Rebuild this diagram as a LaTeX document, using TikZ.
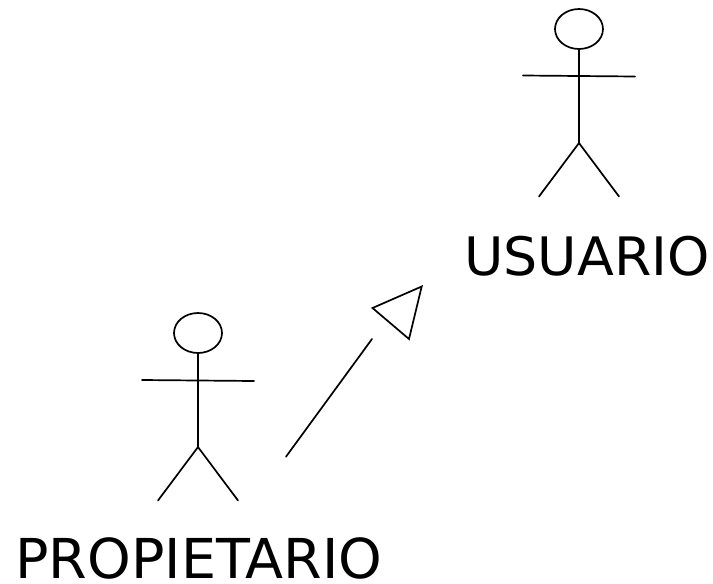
\documentclass[tikz,border=0pt]{standalone}
\usetikzlibrary{shapes.geometric}
\usepackage{fontspec}
\setmainfont{DejaVu Sans}
\tikzset{
  stroke/.style={draw=black,line width=1.7pt,line cap=round,line join=miter},
  headshape/.style={ellipse,draw=black,line width=1.7pt,minimum width=48pt,minimum height=40pt,inner sep=0pt},
  lbl/.style={inner sep=0pt,anchor=base,text=black}
}
\begin{document}
\begin{tikzpicture}[x=1pt,y=-1pt]
\useasboundingbox (0,0) rectangle (713,584);
% Usuario
\node[headshape] (h1) at (579,29) {};
\coordinate (hip1) at (579,143);
\coordinate (la1) at (523,75.5);
\coordinate (ra1) at (635,76.5);
\coordinate (ll1) at (539,196.5);
\coordinate (rl1) at (619,196.5);
\draw[stroke] (h1.south) -- (hip1);
\draw[stroke] (la1) -- (ra1);
\draw[stroke] (ll1) -- (hip1) -- (rl1);
\node[lbl,font=\fontsize{53}{56}\selectfont,xscale=1.015] (usuario) at (587,275) {USUARIO};
% Propietario
\node[headshape] (h2) at (198,333) {};
\coordinate (hip2) at (198,447);
\coordinate (la2) at (142,380);
\coordinate (ra2) at (254,381);
\coordinate (ll2) at (158,500.5);
\coordinate (rl2) at (238,500.5);
\draw[stroke] (h2.south) -- (hip2);
\draw[stroke] (la2) -- (ra2);
\draw[stroke] (ll2) -- (hip2) -- (rl2);
\node[lbl,font=\fontsize{55}{58}\selectfont,xscale=1.01] (prop) at (199,578) {PROPIETARIO};
% Generalisation arrow
\coordinate (a) at (286,456.7);
\coordinate (b) at (372,339);
\coordinate (t1) at (372.5,308);
\coordinate (t2) at (421.7,286.5);
\coordinate (t3) at (409,339);
\draw[stroke] (a) -- (b);
\draw[stroke] (t1) -- (t2) -- (t3) -- cycle;
\end{tikzpicture}
\end{document}
